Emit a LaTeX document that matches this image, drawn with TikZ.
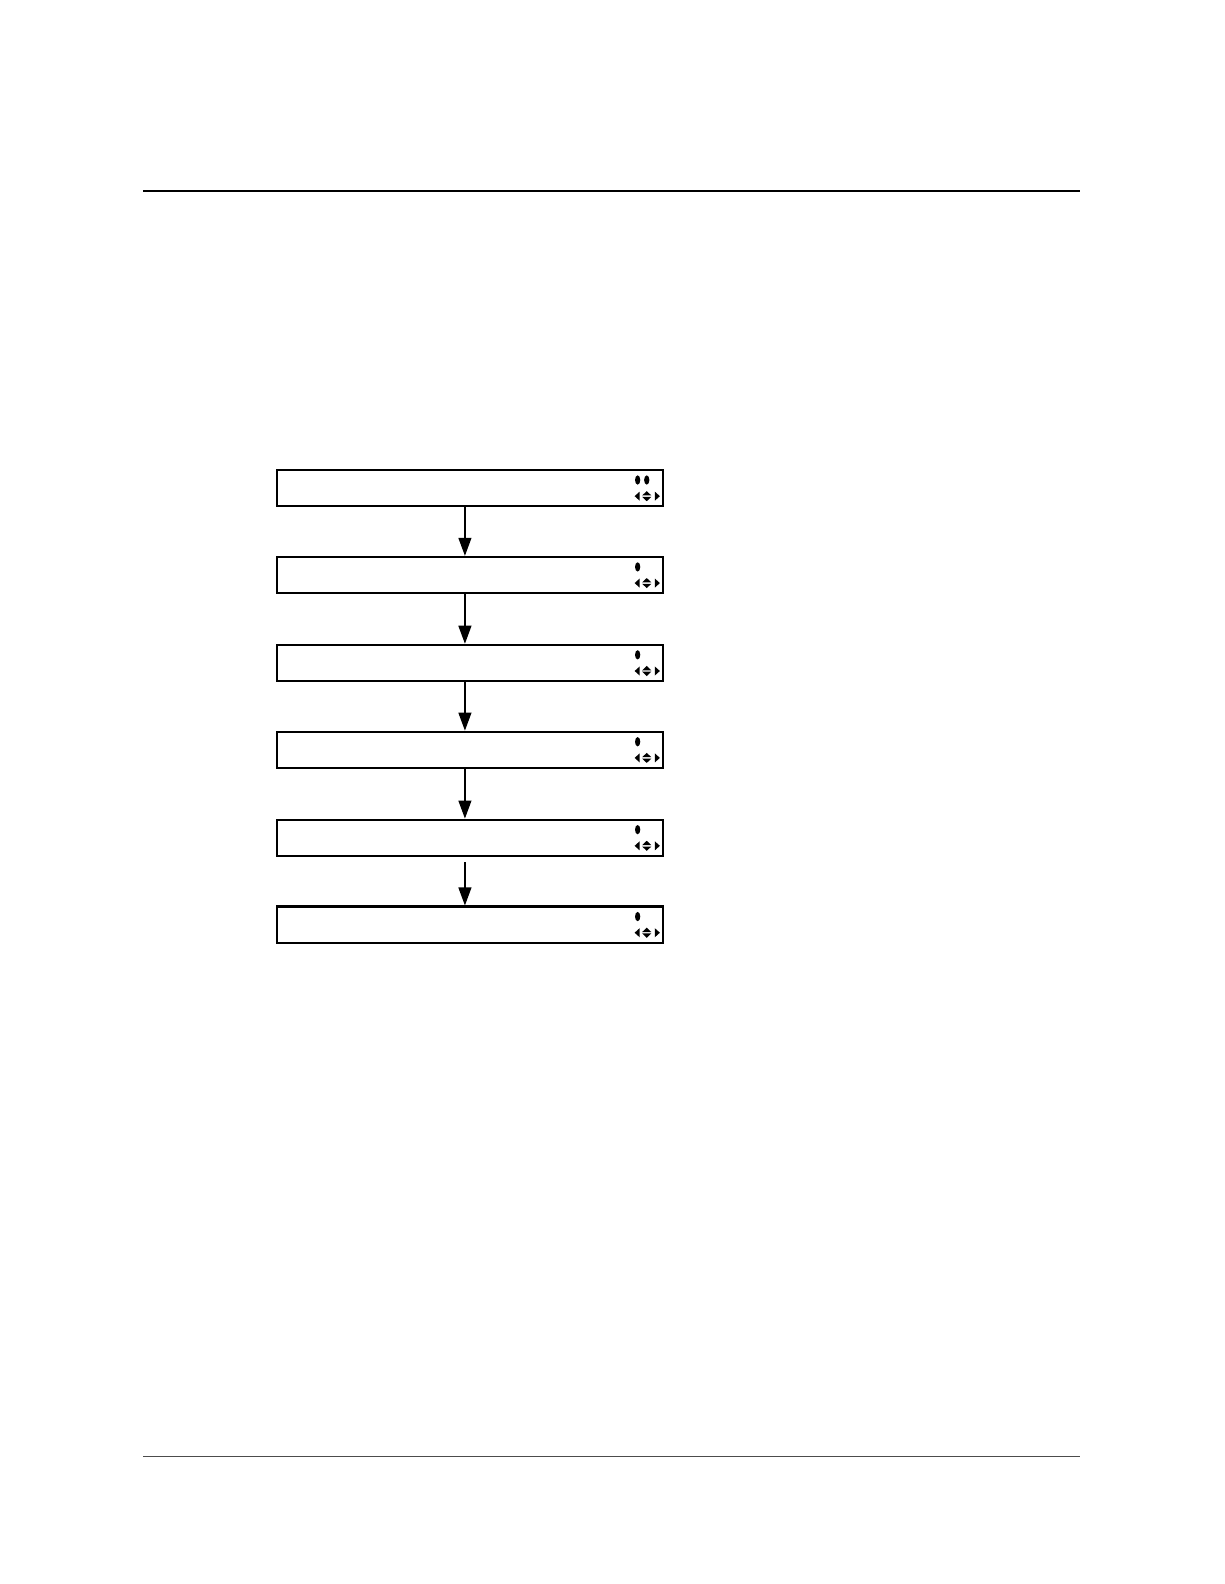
\documentclass[tikz,border=0pt]{standalone}
\usetikzlibrary{arrows.meta,calc}
\begin{document}
\begin{tikzpicture}[x=0.50525pt,y=-0.50525pt,
  panel/.style={draw,line width=1.1pt,minimum width=193pt,minimum height=18.2pt,inner sep=0pt,anchor=north west},
  flow/.style={-{Triangle[length=9pt,width=6.5pt]},line width=0.6pt},
]
\useasboundingbox (0,0) rectangle (1211.3,1567.5);
\draw[line width=0.9pt] (142,189) -- (1069,189);
\draw[line width=0.5pt,black!70] (142,1441) -- (1069,1441);
\foreach \i/\y in {1/464,2/550,3/637,4/723,5/810,6/896}{
  \node[panel] (b\i) at (273,\y) {};
  \fill (631,\y+11) ellipse [x radius=2.6, y radius=4.6];
  \fill (628,\y+27) -- (633,\y+22.5) -- (633,\y+31.5) -- cycle;
  \fill (653,\y+27) -- (648,\y+22.5) -- (648,\y+31.5) -- cycle;
  \fill (640,\y+22) -- (644.5,\y+26.3) -- (635.5,\y+26.3) -- cycle;
  \fill (640,\y+32) -- (644.5,\y+27.7) -- (635.5,\y+27.7) -- cycle;
}
\fill (640,475) ellipse [x radius=2.6, y radius=4.6];
\foreach \a/\b in {1/2,2/3,3/4,4/5}{
  \draw[flow] ($(b\a.south)+(-5,0)$) -- ($(b\b.north)+(-5,0)$);
}
\draw[flow] ($(b5.south)+(-5,5)$) -- ($(b6.north)+(-5,0)$);
\end{tikzpicture}
\end{document}
